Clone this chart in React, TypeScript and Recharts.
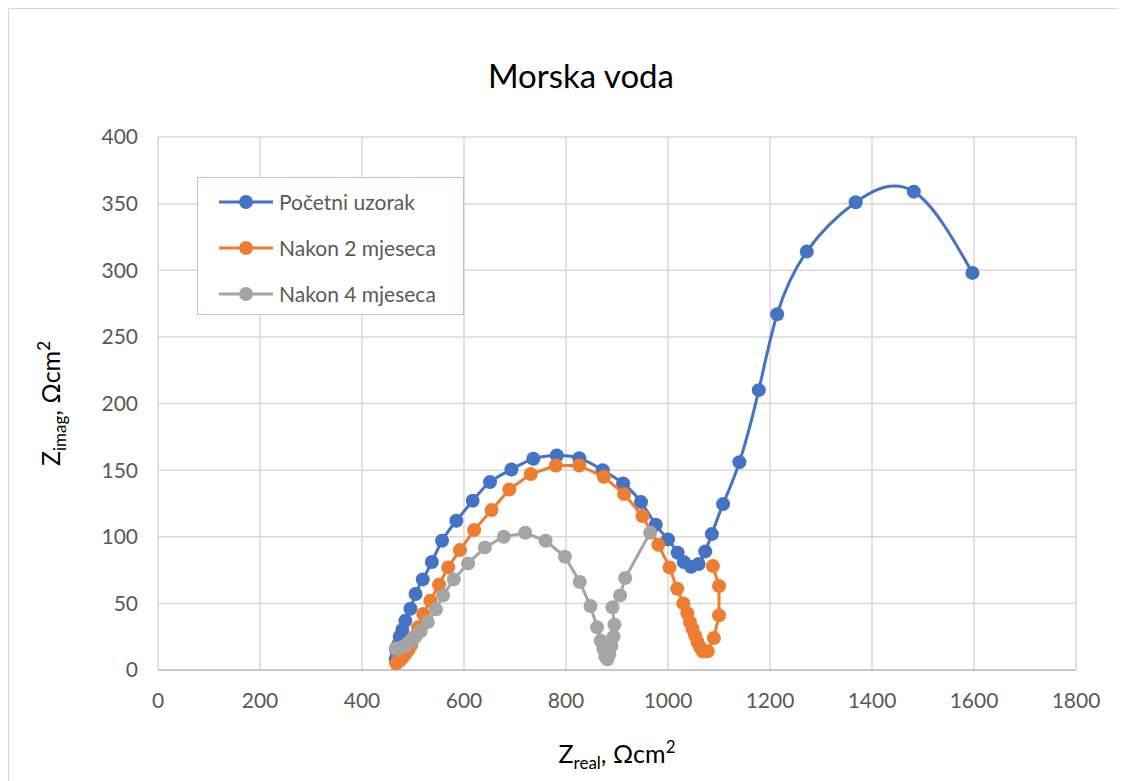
import React from "react";
import {
  CartesianGrid,
  Label,
  Legend,
  Scatter,
  ScatterChart,
  XAxis,
  YAxis,
} from "recharts";

const FONT = "Lato, 'Open Sans', sans-serif";

const xTicks = [0, 200, 400, 600, 800, 1000, 1200, 1400, 1600, 1800];
const yTicks = [0, 50, 100, 150, 200, 250, 300, 350, 400];

const seriesNames = ["Početni uzorak", "Nakon 2 mjeseca", "Nakon 4 mjeseca"];
const seriesColors = ["#4472C4", "#ED7D31", "#A5A5A5"];

// Početni uzorak
const pocetniX = [
  466, 468, 471, 474, 479, 485, 495, 505, 519, 537, 557, 585, 617, 651, 693,
  736, 782, 826, 872, 912, 947, 976, 1000, 1019, 1031, 1045, 1060, 1073, 1086,
  1108, 1140, 1178, 1214, 1272, 1368, 1482, 1597,
];
const pocetniY = [
  8, 13, 19, 25, 30, 37, 46, 57, 68, 81, 97, 112, 127, 141, 150.5, 158.5, 161,
  159, 150, 140, 126, 109, 98, 88, 81, 77.5, 79.5, 89, 102, 124.5, 156, 210,
  267, 314, 351, 359, 298,
];

// Nakon 2 mjeseca
const dvaX = [
  467, 470, 474, 479, 485, 491, 497, 503, 510, 520, 534, 551, 569, 592, 620,
  654, 689, 731, 780, 826, 874, 914, 950, 981, 1003, 1018, 1030, 1038, 1043,
  1048, 1053, 1058, 1063, 1068, 1078, 1090, 1100, 1100, 1088,
];
const dvaY = [
  5, 6, 7, 9, 12, 15, 19, 25, 32, 42, 52, 64, 77, 90, 105, 120, 135.5, 147,
  153.5, 153.5, 145, 132, 115.5, 94, 77, 61, 50, 42.5, 36, 31, 26, 21, 17, 14,
  14, 24, 41, 63, 78,
];

// Nakon 4 mjeseca
const cetiriX = [
  466, 472, 478, 484, 490, 497, 505, 515, 529, 545, 559, 580, 608, 641, 678,
  720, 760, 798, 827, 848, 861, 868, 873, 877, 881, 885, 889, 893, 895, 891,
  906, 916, 965,
];
const cetiriY = [
  16, 16.5, 17, 18, 20, 22, 25, 29, 36, 45.5, 56, 68, 80, 92, 100, 103, 97, 85,
  66, 48, 32, 22, 16, 10, 8, 12, 18, 25, 34, 47, 56, 69, 103,
];

const toPoints = (xs: number[], ys: number[]) =>
  xs.map((x, i) => ({ x, y: ys[i] }));

const series = [
  { data: toPoints(pocetniX, pocetniY), joint: "natural" },
  { data: toPoints(dvaX, dvaY), joint: "linear" },
  { data: toPoints(cetiriX, cetiriY), joint: "linear" },
];

const makeDot = (color: string) => (props: any) =>
  <circle cx={props.cx} cy={props.cy} r={7} fill={color} />;

const XTitle = (props: any) => {
  const { x, y, width } = props.viewBox;
  return (
    <text x={x + width / 2} y={y + 93} textAnchor="middle" fill="#000" fontFamily={FONT} fontSize={25}>
      <tspan>Z</tspan>
      <tspan fontSize={17} dy={6}>real</tspan>
      <tspan dy={-6}>, Ωcm</tspan>
      <tspan fontSize={17} dy={-10}>2</tspan>
    </text>
  );
};

const YTitle = (props: any) => {
  const { y, height } = props.viewBox;
  const cx = 51;
  const cy = y + height / 2;
  return (
    <text
      x={cx}
      y={cy}
      transform={`rotate(-90, ${cx}, ${cy})`}
      textAnchor="middle"
      fill="#000"
      fontFamily={FONT}
      fontSize={25}
    >
      <tspan>Z</tspan>
      <tspan fontSize={17} dy={6}>imag</tspan>
      <tspan dy={-6}>, Ωcm</tspan>
      <tspan fontSize={17} dy={-10}>2</tspan>
    </text>
  );
};

const rowCenters = [23.5, 69.5, 115.5];

const renderLegend = () => (
  <div
    style={{
      position: "relative",
      width: 267,
      height: 138,
      boxSizing: "border-box",
      border: "1px solid #B4C7E7",
      background: "#fff",
    }}
  >
    {seriesNames.map((name, i) => (
      <div
        key={name}
        style={{
          position: "absolute",
          left: 21,
          top: rowCenters[i] - 13,
          height: 26,
          display: "flex",
          alignItems: "center",
          whiteSpace: "nowrap",
        }}
      >
        <svg width={54} height={16} style={{ display: "block" }}>
          <line x1={0} y1={8} x2={54} y2={8} stroke={seriesColors[i]} strokeWidth={3} />
          <circle cx={27} cy={8} r={7} fill={seriesColors[i]} />
        </svg>
        <span style={{ marginLeft: 6, fontSize: 21, color: "#595959", fontFamily: FONT }}>
          {name}
        </span>
      </div>
    ))}
  </div>
);

export default function App() {
  return (
    <div
      style={{
        position: "relative",
        width: 1119,
        height: 773,
        boxSizing: "border-box",
        borderLeft: "1px solid #D9D9D9",
        borderTop: "1px solid #D9D9D9",
        background: "#fff",
      }}
    >
      <div
        style={{
          position: "absolute",
          left: 372,
          top: 50,
          width: 400,
          textAlign: "center",
          fontFamily: FONT,
          fontSize: 33,
          lineHeight: "33px",
          color: "#000",
        }}
      >
        Morska voda
      </div>
      <ScatterChart
        width={1118}
        height={772}
        margin={{ top: 128, right: 51, bottom: 0, left: 0 }}
      >
        <CartesianGrid stroke="#D9D9D9" strokeWidth={1.5} />
        <XAxis
          type="number"
          dataKey="x"
          domain={[0, 1800]}
          ticks={xTicks}
          interval={0}
          height={111}
          tickLine={false}
          tickSize={0}
          tickMargin={23}
          axisLine={{ stroke: "#BFBFBF", strokeWidth: 1.5 }}
          tick={{ fill: "#595959", fontSize: 21, fontFamily: FONT }}
        >
          <Label content={XTitle} />
        </XAxis>
        <YAxis
          type="number"
          dataKey="y"
          domain={[0, 400]}
          ticks={yTicks}
          interval={0}
          width={149}
          tickLine={false}
          tickSize={0}
          tickMargin={20}
          axisLine={false}
          tick={{ fill: "#595959", fontSize: 21, fontFamily: FONT }}
        >
          <Label content={YTitle} />
        </YAxis>
        <Legend
          layout="vertical"
          align="center"
          verticalAlign="middle"
          content={renderLegend}
          wrapperStyle={{ position: "absolute", left: 188, top: 168, width: 267, height: 138 }}
        />
        {series.map((s, i) => (
          <Scatter
            key={seriesNames[i]}
            name={seriesNames[i]}
            data={s.data}
            fill={seriesColors[i]}
            line={{ stroke: seriesColors[i], strokeWidth: 3 }}
            lineJointType={s.joint as any}
            shape={makeDot(seriesColors[i])}
            isAnimationActive={false}
          />
        ))}
      </ScatterChart>
    </div>
  );
}
